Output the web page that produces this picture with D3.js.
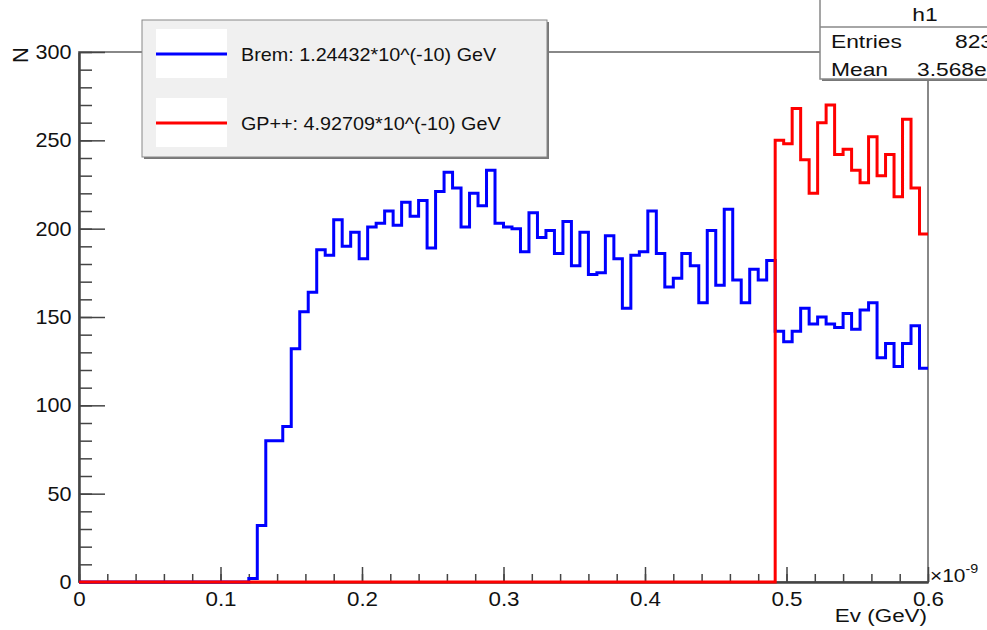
<!DOCTYPE html>
<html>
<head>
<meta charset="utf-8">
<script src="https://cdn.jsdelivr.net/npm/d3@7"></script>
<style>
body { margin: 0; background: #fff; }
svg { display: block; font-family: "Liberation Sans", Arial, sans-serif; }
</style>
</head>
<body>
<svg id="chart" width="987" height="630"></svg>
<script>
// histogram binning (100 bins between 0 and 0.6 x10^-9 GeV)
var binLow = 0;
var binHigh = 0.6;

// Brem counts per bin
var bremCounts = [
    0, 0, 0, 0, 0, 0, 0, 0, 0, 0,
    0, 0, 0, 0, 0, 0, 0, 0, 0, 0,
    2, 32, 80, 80, 88, 132, 153, 164, 188, 185,
    205, 190, 198, 183, 201, 203, 210, 202, 215, 207,
    216, 189, 221, 232, 223, 201, 220, 213, 233, 203,
    201, 200, 187, 209, 195, 199, 186, 204, 179, 198,
    174, 175, 196, 183, 155, 185, 187, 210, 186, 167,
    172, 186, 179, 158, 199, 168, 211, 171, 158, 177,
    171, 182, 142, 136, 142, 155, 146, 150, 146, 144,
    152, 143, 154, 158, 127, 135, 122, 135, 145, 121
];

// GP++ counts per bin
var gppCounts = [
    0, 0, 0, 0, 0, 0, 0, 0, 0, 0,
    0, 0, 0, 0, 0, 0, 0, 0, 0, 0,
    0, 0, 0, 0, 0, 0, 0, 0, 0, 0,
    0, 0, 0, 0, 0, 0, 0, 0, 0, 0,
    0, 0, 0, 0, 0, 0, 0, 0, 0, 0,
    0, 0, 0, 0, 0, 0, 0, 0, 0, 0,
    0, 0, 0, 0, 0, 0, 0, 0, 0, 0,
    0, 0, 0, 0, 0, 0, 0, 0, 0, 0,
    0, 0, 250, 248, 268, 239, 220, 260, 270, 242,
    245, 233, 226, 252, 230, 242, 218, 262, 223, 197
];

var xTicks = [0, 0.1, 0.2, 0.3, 0.4, 0.5, 0.6];
var xTickLabels = ["0", "0.1", "0.2", "0.3", "0.4", "0.5", "0.6"];
var yTicks = [0, 50, 100, 150, 200, 250, 300];
var yTickLabels = ["0", "50", "100", "150", "200", "250", "300"];

var legendLabels = ["Brem: 1.24432*10^(-10) GeV", "GP++: 4.92709*10^(-10) GeV"];
var seriesColors = ["#0000ff", "#ff0000"];

var statsTitle = "h1";
var statsNames = ["Entries", "Mean"];
var statsValues = ["823", "3.568e"];

var xTitle = "Ev (GeV)";
var yTitle = "N";

var svg = d3.select("#chart");

var plotL = 79, plotR = 928, plotT = 52, plotB = 582;
var x = d3.scaleLinear().domain([binLow, binHigh]).range([plotL, plotR]);
var y = d3.scaleLinear().domain([0, 300]).range([plotB, plotT]);

var textColor = "#111";

// frame
svg.append("rect")
    .attr("x", plotL).attr("y", plotT)
    .attr("width", plotR - plotL).attr("height", plotB - plotT)
    .attr("fill", "none")
    .attr("stroke", "#888")
    .attr("stroke-width", 2);

// histogram outlines
var histoPath = function (counts) {
    var w = (binHigh - binLow) / counts.length;
    var pts = counts.map(function (c, i) { return [binLow + i * w, c]; });
    pts.push([binHigh, counts[counts.length - 1]]);
    return d3.line()
        .x(function (d) { return x(d[0]); })
        .y(function (d) { return y(d[1]); })
        .curve(d3.curveStepAfter)(pts);
};

// axes
var styleAxis = function (g) {
    g.select(".domain").attr("stroke", "#444").attr("stroke-width", 2);
    g.selectAll(".tick line").attr("stroke", "#444").attr("stroke-width", 1.5);
    g.selectAll("text").attr("fill", textColor).style("font-size", "20px");
};

var xMinor = d3.range(0, 31).map(function (i) { return i * 0.02; });
svg.append("g")
    .attr("transform", "translate(0," + plotB + ")")
    .call(d3.axisBottom(x).tickValues(xMinor).tickSize(-8).tickFormat("").tickSizeOuter(0))
    .call(styleAxis);
svg.append("g")
    .attr("transform", "translate(0," + plotB + ")")
    .call(d3.axisBottom(x).tickValues(xTicks).tickSize(-15).tickPadding(10).tickSizeOuter(0)
        .tickFormat(function (d, i) { return xTickLabels[i]; }))
    .call(styleAxis)
    .selectAll("text").attr("transform", "scale(1.12,1)");

var yMinor = d3.range(0, 31).map(function (i) { return i * 10; });
svg.append("g")
    .attr("transform", "translate(" + plotL + ",0)")
    .call(d3.axisLeft(y).tickValues(yMinor).tickSize(-13).tickFormat("").tickSizeOuter(0))
    .call(styleAxis);
svg.append("g")
    .attr("transform", "translate(" + plotL + ",0)")
    .call(d3.axisLeft(y).tickValues(yTicks).tickSize(-26).tickPadding(7).tickSizeOuter(0)
        .tickFormat(function (d, i) { return yTickLabels[i]; }))
    .call(styleAxis)
    .selectAll("text").attr("transform", "scale(1.08,1)");

[bremCounts, gppCounts].forEach(function (counts, i) {
    svg.append("path")
        .attr("d", histoPath(counts))
        .attr("fill", "none")
        .attr("stroke", seriesColors[i])
        .attr("stroke-width", 3);
});

// axis titles
svg.append("text")
    .attr("transform", "translate(927,622) scale(1.18,1)")
    .attr("text-anchor", "end")
    .attr("fill", textColor)
    .style("font-size", "19px")
    .text(xTitle);

svg.append("text")
    .attr("transform", "translate(28,55) rotate(-90)")
    .attr("text-anchor", "middle")
    .attr("fill", textColor)
    .style("font-size", "22px")
    .text(yTitle);

var expo = svg.append("text")
    .attr("transform", "translate(930,582) scale(1.1,1)")
    .attr("fill", textColor)
    .style("font-size", "19px");
expo.append("tspan").text("\u00d710");
expo.append("tspan").attr("dy", -9).style("font-size", "13px").text("-9");

// legend box
var lg = svg.append("g");
lg.append("rect")
    .attr("x", 144).attr("y", 22).attr("width", 405).attr("height", 137)
    .attr("fill", "#777");
lg.append("rect")
    .attr("x", 142).attr("y", 20).attr("width", 405).attr("height", 137)
    .attr("fill", "#f0f0f0")
    .attr("stroke", "#888")
    .attr("stroke-width", 1);

legendLabels.forEach(function (label, i) {
    var cy = 54 + i * 69;
    lg.append("rect")
        .attr("x", 156).attr("y", cy - 25).attr("width", 71).attr("height", 49)
        .attr("fill", "#fff");
    lg.append("line")
        .attr("x1", 156).attr("x2", 227).attr("y1", cy).attr("y2", cy)
        .attr("stroke", seriesColors[i])
        .attr("stroke-width", 3);
    lg.append("text")
        .attr("transform", "translate(241," + (cy + 7) + ") scale(1.04,1)")
        .attr("fill", textColor)
        .style("font-size", "19px")
        .text(label);
});

// stats box
var st = svg.append("g");
st.append("rect")
    .attr("x", 822).attr("y", -10).attr("width", 200).attr("height", 91)
    .attr("fill", "#777");
st.append("rect")
    .attr("x", 820).attr("y", -10).attr("width", 200).attr("height", 89)
    .attr("fill", "#fff")
    .attr("stroke", "#888")
    .attr("stroke-width", 1.5);
st.append("line")
    .attr("x1", 820).attr("x2", 987).attr("y1", 27).attr("y2", 27)
    .attr("stroke", "#888")
    .attr("stroke-width", 1.5);
st.append("text")
    .attr("transform", "translate(925,21) scale(1.2,1)")
    .attr("text-anchor", "middle")
    .attr("fill", textColor)
    .style("font-size", "19px")
    .text(statsTitle);
statsNames.forEach(function (name, i) {
    var by = 48 + i * 28;
    st.append("text")
        .attr("transform", "translate(831," + by + ") scale(1.2,1)")
        .attr("fill", textColor)
        .style("font-size", "19px")
        .text(name);
    st.append("text")
        .attr("transform", "translate(" + (i === 0 ? 955 : 917) + "," + by + ") scale(1.2,1)")
        .attr("fill", textColor)
        .style("font-size", "19px")
        .text(statsValues[i]);
});
</script>
</body>
</html>
